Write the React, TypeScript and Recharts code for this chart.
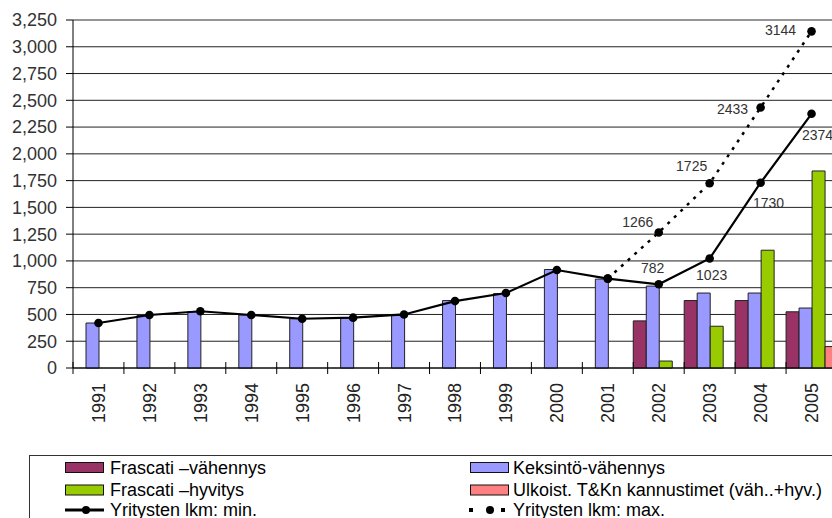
import React from 'react'
import {
  ComposedChart,
  Bar,
  Line,
  XAxis,
  YAxis,
  CartesianGrid,
  ReferenceLine,
  LabelList,
} from 'recharts'

// chart values
const years = ['1991', '1992', '1993', '1994', '1995', '1996', '1997', '1998', '1999', '2000', '2001', '2002', '2003', '2004', '2005']
const frascatiVah = [null, null, null, null, null, null, null, null, null, null, null, 440, 630, 630, 525]
const keksinto = [420, 490, 525, 495, 460, 470, 490, 630, 695, 920, 830, 765, 700, 700, 560]
const frascatiHyv = [null, null, null, null, null, null, null, null, null, null, null, 65, 390, 1100, 1840]
const ulkoist = [null, null, null, null, null, null, null, null, null, null, null, null, null, null, 200]
const minCount = [420, 495, 530, 495, 460, 470, 500, 625, 700, 915, 835, 782, 1023, 1730, 2374]
const maxCount = [null, null, null, null, null, null, null, null, null, null, 835, 1266, 1725, 2433, 3144]
const yTicks = [0, 250, 500, 750, 1000, 1250, 1500, 1750, 2000, 2250, 2500, 2750, 3000, 3250]
const labelledYears = ['2002', '2003', '2004', '2005']

// where each data label sits relative to its point
const minLabelOffset: Record<string, [number, number]> = {
  '2002': [-6, -16],
  '2003': [2, 17],
  '2004': [8, 20],
  '2005': [6, 21],
}
const maxLabelOffset: Record<string, [number, number]> = {
  '2002': [-21, -10],
  '2003': [-18, -17],
  '2004': [-28, 2],
  '2005': [-31, -1],
}

const data = years.map((year, i) => ({
  year,
  frascatiVah: frascatiVah[i],
  keksinto: keksinto[i],
  frascatiHyv: frascatiHyv[i],
  ulkoist: ulkoist[i],
  minCount: minCount[i],
  maxCount: maxCount[i],
}))

const COLORS = {
  frascatiVah: '#993366',
  keksinto: '#9999ff',
  frascatiHyv: '#99cc00',
  ulkoist: '#ff8080',
}

const FONT = '"Liberation Sans", Arial, sans-serif'

const YearTick = (props: any) => {
  const { x, y, payload } = props
  const half = payload?.offset || 25.5
  return (
    <g>
      <line x1={x - half} x2={x - half} y1={y - 6} y2={y + 6} stroke="#000" strokeWidth={1} />
      <text
        x={x}
        y={y + 15}
        transform={`rotate(-90 ${x} ${y + 15})`}
        textAnchor="end"
        dy="0.36em"
        fontFamily={FONT}
        fontSize={18}
        fill="#222"
      >
        {payload.value}
      </text>
    </g>
  )
}

const makeLabel = (offsets: Record<string, [number, number]>) => (props: any) => {
  const { x, y, value, index } = props
  const year = years[index]
  if (!labelledYears.includes(year) || value == null) return null
  const [dx, dy] = offsets[year]
  return (
    <text
      x={x + dx}
      y={y + dy}
      textAnchor="middle"
      dominantBaseline="central"
      fontFamily={FONT}
      fontSize={14}
      fill="#333"
    >
      {value}
    </text>
  )
}

function LegendBox() {
  const rows = [474, 496, 516]
  return (
    <svg width={832} height={518} style={{ position: 'absolute', left: 0, top: 0 }}>
      <rect x={29.5} y={455.5} width={900} height={100} fill="none" stroke="#333" strokeWidth={1} />
      <rect x={65.5} y={462.5} width={38} height={10} fill={COLORS.frascatiVah} stroke="#111" />
      <rect x={470.5} y={462.5} width={38} height={10} fill={COLORS.keksinto} stroke="#111" />
      <rect x={65.5} y={485} width={38} height={10} fill={COLORS.frascatiHyv} stroke="#111" />
      <rect x={470.5} y={485} width={38} height={10} fill={COLORS.ulkoist} stroke="#111" />
      <line x1={65} x2={104} y1={510} y2={510} stroke="#000" strokeWidth={3} />
      <circle cx={86} cy={510} r={4} fill="#000" />
      <rect x={469} y={508} width={4} height={4} fill="#000" />
      <circle cx={490} cy={510} r={4} fill="#000" />
      <rect x={501} y={508} width={4} height={4} fill="#000" />
      <g fontFamily={FONT} fontSize={18} fill="#000">
        <text x={110} y={rows[0]}>Frascati –vähennys</text>
        <text x={513} y={rows[0]}>Keksintö-vähennys</text>
        <text x={110} y={rows[1]}>Frascati –hyvitys</text>
        <text x={513} y={rows[1]}>Ulkoist. T&amp;Kn kannustimet (väh..+hyv.)</text>
        <text x={110} y={rows[2]}>Yritysten lkm: min.</text>
        <text x={513} y={rows[2]}>Yritysten lkm: max.</text>
      </g>
    </svg>
  )
}

export default function App() {
  return (
    <div
      style={{
        position: 'absolute',
        left: 0,
        top: 0,
        width: 832,
        height: 518,
        overflow: 'hidden',
        background: '#fff',
      }}
    >
      <ComposedChart
        width={860}
        height={518}
        data={data}
        margin={{ top: 20, right: 23, left: 0, bottom: 90 }}
        barCategoryGap={0}
        barGap={0}
      >
        <CartesianGrid vertical={false} stroke="#222" strokeWidth={1} />
        <ReferenceLine y={3250} stroke="#999" strokeWidth={1} />
        <XAxis
          dataKey="year"
          interval={0}
          height={60}
          tickLine={false}
          tickSize={0}
          tickMargin={0}
          axisLine={{ stroke: '#000' }}
          tick={<YearTick />}
        />
        <YAxis
          width={73}
          domain={[0, 3250]}
          ticks={yTicks}
          interval={0}
          tickSize={7}
          tickMargin={9}
          tickLine={{ stroke: '#000' }}
          axisLine={{ stroke: '#000' }}
          tickFormatter={(v: number) => v.toLocaleString('en-US')}
          tick={{ fontFamily: FONT, fontSize: 18, fill: '#333' }}
        />
        <Bar dataKey="frascatiVah" fill={COLORS.frascatiVah} stroke="#222" strokeWidth={1} isAnimationActive={false} />
        <Bar dataKey="keksinto" fill={COLORS.keksinto} stroke="#222" strokeWidth={1} isAnimationActive={false} />
        <Bar dataKey="frascatiHyv" fill={COLORS.frascatiHyv} stroke="#222" strokeWidth={1} isAnimationActive={false} />
        <Bar dataKey="ulkoist" fill={COLORS.ulkoist} stroke="#222" strokeWidth={1} isAnimationActive={false} />
        <Line
          dataKey="minCount"
          stroke="#000"
          strokeWidth={2.2}
          dot={{ r: 4.3, fill: '#000', stroke: '#000', strokeWidth: 0 }}
          isAnimationActive={false}
        >
          <LabelList dataKey="minCount" content={makeLabel(minLabelOffset)} />
        </Line>
        <Line
          dataKey="maxCount"
          stroke="#000"
          strokeWidth={2.5}
          strokeDasharray="3 6"
          connectNulls={false}
          dot={{ r: 4.3, fill: '#000', stroke: '#000', strokeWidth: 0, strokeDasharray: '' }}
          isAnimationActive={false}
        >
          <LabelList dataKey="maxCount" content={makeLabel(maxLabelOffset)} />
        </Line>
      </ComposedChart>
      <LegendBox />
    </div>
  )
}
